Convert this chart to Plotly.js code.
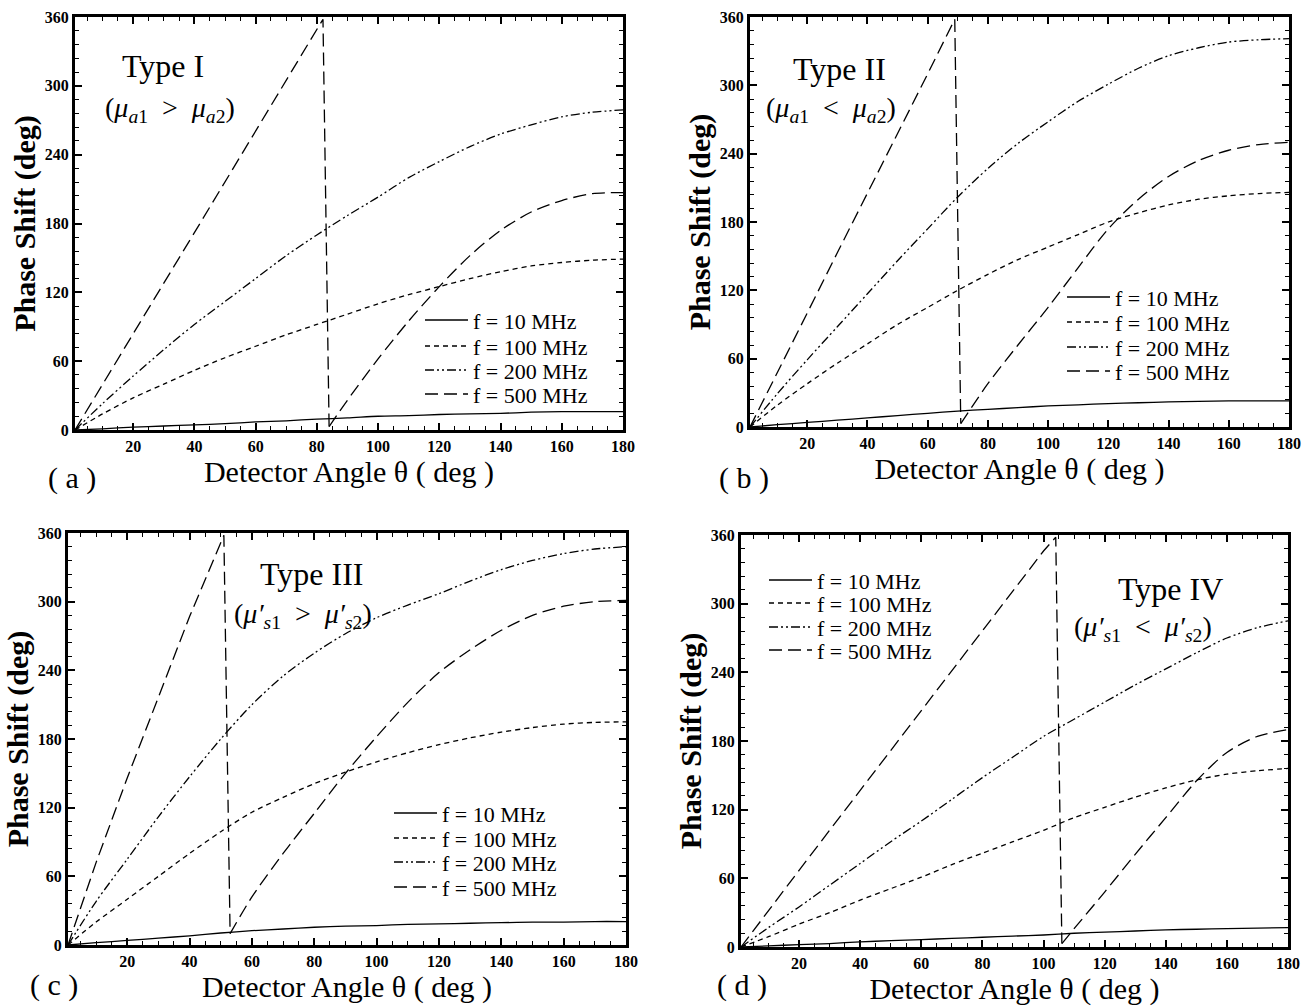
<!DOCTYPE html>
<html>
<head>
<meta charset="utf-8">
<script src="https://cdn.plot.ly/plotly-3.0.1.min.js"></script>
<style>
html,body{margin:0;padding:0;background:#fff;}
#chart{width:1304px;height:1006px;}
</style>
</head>
<body>
<div id="chart"></div>
<script>
// ---------- data ----------
const theta = [1,10,20,30,40,50,60,70,80,90,100,110,120,130,140,150,160,170,180];
const seriesNames = ['f = 10 MHz','f = 100 MHz','f = 200 MHz','f = 500 MHz'];
const xTickVals = [20,40,60,80,100,120,140,160,180];
const yTickVals = [0,60,120,180,240,300,360];

// (a) Type I
const a10  = [0,1,2.5,3.5,4.5,5.5,7,8,9.5,10.5,12,12.5,13.5,14,14.5,15.5,16,16,16];
const a100 = [0,14,28,40,52,63,73,83,92,101,110,118,125,132,138,143,146,148,149];
const a200 = [0,23,47,70,92,112,132,152,170,187,203,220,234,247,258,266,273,277,279];
const a500x = [1,10,20,30,40,50,60,70,82,84,90,100,110,120,130,140,150,160,170,180];
const a500  = [0,40,84,128,172,216,260,304,358,3,26,62,95,125,152,174,190,200,206,207];

// (b) Type II
const b10  = [0,2,4,6,8,10,12,14,15.5,17,18.5,19.5,20.5,21.3,22,22.5,23,23,23];
const b100 = [0,19,38,56,73,90,105,120,134,147,158,169,180,188,195,200,203,205,206];
const b200 = [0,29,59,88,117,146,174,202,227,249,268,286,301,315,326,333,338,340,341];
const b500x = [1,10,20,30,40,50,60,69,71,80,90,100,110,120,130,140,150,160,170,180];
const b500  = [0,47,100,153,205,258,310,358,3,38,72,105,140,174,200,220,234,243,248,250];

// (c) Type III
const c10  = [0,2,4,6,8,10.5,12.5,14,15.5,16.5,17,18,18.5,19,19.5,20,20,20.5,20.5];
const c100 = [0,20,40,60,80,99,116,129,141,151,160,168,175,181,186,190,193,194.5,195];
const c200 = [0,38,75,112,147,180,210,235,255,272,286,297,307,318,328,336,342,346,348];
const c500x = [1,10,20,30,40,51,53,60,70,80,90,100,110,120,130,140,150,160,170,180];
const c500  = [0,72,146,217,287,358,10,42,80,115,150,182,212,238,258,275,288,296,300,301];

// (d) Type IV
const d10  = [0,1,2,3,4.5,5.5,6.5,7.5,8.5,9.5,10.5,12,13,14,15,15.5,16,16.5,17];
const d100 = [0,9,20,30,41,51,61,72,82,92,102,113,122,131,139,146,151,154,156];
const d200 = [0,17,35,54,73,92,110,129,148,166,184,199,214,229,243,257,270,279,285];
const d500x = [1,10,20,30,40,50,60,70,80,90,100,104,106,110,120,130,140,150,160,170,180];
const d500  = [0,32,67,102,137,172,207,242,277,312,346,358,3,16,48,81,113,145,170,184,190];

// ---------- styling ----------
const W = 1304, H = 1006;
const SERIF = 'Liberation Serif, Times New Roman, serif';
const dashes = ['solid','5px,4px','9px,3px,2px,3px,2px,3px','13px,6px'];

function px2x(p){ return p / W; }
function px2y(p){ return 1 - p / H; }

// plot boxes in pixels [left, right, top, bottom]
const boxes = [
  [75, 623, 17, 430],
  [750, 1289, 17, 427],
  [68, 626, 533, 945],
  [741, 1288, 535, 947]
];
// legend rows: sample-left px and row-centre px for each series
const legendLeft = [420, 1062, 389, 764];
const legendRows = [
  [320, 346, 370, 394],
  [297, 322, 347, 371],
  [813, 838, 862, 887],
  [580, 603, 627, 650]
];

const panels = [
  {x:[theta,theta,theta,a500x], y:[a10,a100,a200,a500]},
  {x:[theta,theta,theta,b500x], y:[b10,b100,b200,b500]},
  {x:[theta,theta,theta,c500x], y:[c10,c100,c200,c500]},
  {x:[theta,theta,theta,d500x], y:[d10,d100,d200,d500]}
];

const LEG_FONT = 22;
const traces = [];
const legends = {};
panels.forEach((p, i) => {
  const xa = i === 0 ? 'x' : 'x' + (i + 1);
  const ya = i === 0 ? 'y' : 'y' + (i + 1);
  for (let s = 0; s < 4; s++) {
    const k = i * 4 + s + 1;
    const legId = k === 1 ? 'legend' : 'legend' + k;
    const itemH = LEG_FONT * 1.3 + 3;
    legends[legId] = {
      x: px2x(legendLeft[i]), y: px2y(legendRows[i][s] - 5 - itemH / 2),
      xanchor: 'left', yanchor: 'top', xref: 'paper', yref: 'paper',
      font: {family: SERIF, size: LEG_FONT, color: '#000'},
      bgcolor: 'rgba(0,0,0,0)', borderwidth: 0, itemwidth: 43
    };
    const base = {
      type: 'scatter', mode: 'lines', xaxis: xa, yaxis: ya, hoverinfo: 'skip',
      line: {color: '#000', width: 1.3, dash: dashes[s]}
    };
    const xs = p.x[s], ys = p.y[s];
    // find a phase wrap (sudden drop): rising part + drop drawn straight, the rest smooth
    let cut = -1;
    for (let j = 1; j < ys.length; j++) if (ys[j] < ys[j - 1] - 100) { cut = j; break; }
    if (cut < 0) {
      traces.push(Object.assign({}, base, {
        x: xs, y: ys, name: seriesNames[s], legend: legId,
        line: Object.assign({}, base.line, {shape: 'spline', smoothing: 0.8})
      }));
    } else {
      traces.push(Object.assign({}, base, {
        x: xs.slice(0, cut + 1), y: ys.slice(0, cut + 1), name: seriesNames[s], legend: legId,
        line: Object.assign({}, base.line, {shape: 'linear'})
      }));
      traces.push(Object.assign({}, base, {
        x: xs.slice(cut), y: ys.slice(cut), name: seriesNames[s], legend: legId, showlegend: false,
        line: Object.assign({}, base.line, {shape: 'spline', smoothing: 0.8})
      }));
    }
  }
});

const tickFont = {family: SERIF, size: 16, color: '#000', weight: 'bold'};
function xAxis(i) {
  const b = boxes[i];
  return {
    domain: [px2x(b[0]), px2x(b[1])],
    anchor: i === 0 ? 'y' : 'y' + (i + 1),
    range: [1, 180], tickmode: 'array', tickvals: xTickVals,
    ticks: 'inside', ticklen: 7, tickwidth: 1.5, tickcolor: '#000',
    minor: {ticks: 'inside', dtick: 5, tick0: 0, ticklen: 4, tickwidth: 1, tickcolor: '#000', showgrid: false},
    showline: true, linewidth: 3, linecolor: '#000', mirror: 'allticks',
    showgrid: false, zeroline: false, tickfont: tickFont,
    title: {text: 'Detector Angle θ ( deg )', font: {family: SERIF, size: 30, color: '#000'}, standoff: 5},
    fixedrange: true
  };
}
function yAxis(i) {
  const b = boxes[i];
  return {
    domain: [px2y(b[3]), px2y(b[2])],
    anchor: i === 0 ? 'x' : 'x' + (i + 1),
    range: [0, 360], tickmode: 'array', tickvals: yTickVals,
    ticks: 'inside', ticklen: 7, tickwidth: 1.5, tickcolor: '#000',
    minor: {ticks: 'inside', dtick: 12, tick0: 0, ticklen: 4, tickwidth: 1, tickcolor: '#000', showgrid: false},
    showline: true, linewidth: 3, linecolor: '#000', mirror: 'allticks',
    showgrid: false, zeroline: false, tickfont: tickFont,
    title: {text: 'Phase Shift (deg)', font: {family: SERIF, size: 30, color: '#000', weight: 'bold'}, standoff: 1},
    fixedrange: true
  };
}

const labelFont = {family: SERIF, size: 32, color: '#000'};
const formulaFont = {family: SERIF, size: 28, color: '#000'};
const panelFont = {family: SERIF, size: 30, color: '#000'};
function ann(text, xp, yp, font, yanchor) {
  return {text, x: px2x(xp), y: px2y(yp), xref: 'paper', yref: 'paper',
          xanchor: 'center', yanchor: yanchor || 'middle', showarrow: false, font};
}
const GT = '&nbsp;&nbsp;&gt;&nbsp;&nbsp;', LT = '&nbsp;&nbsp;&lt;&nbsp;&nbsp;';
const annotations = [
  ann('Type I', 163, 66, labelFont),
  ann('(<i>μ</i><sub><i>a</i>1</sub>' + GT + '<i>μ</i><sub><i>a</i>2</sub>)', 170, 109, formulaFont),
  ann('Type II', 840, 69, labelFont),
  ann('(<i>μ</i><sub><i>a</i>1</sub>' + LT + '<i>μ</i><sub><i>a</i>2</sub>)', 831, 109, formulaFont),
  ann('Type III', 311, 574, labelFont),
  ann('(<i>μ′</i><sub><i>s</i>1</sub>' + GT + '<i>μ′</i><sub><i>s</i>2</sub>)', 303, 615, formulaFont),
  ann('Type IV', 1170, 589, labelFont),
  ann('(<i>μ′</i><sub><i>s</i>1</sub>' + LT + '<i>μ′</i><sub><i>s</i>2</sub>)', 1143, 628, formulaFont),
  ann('( a )', 72, 478, panelFont),
  ann('( b )', 744, 478, panelFont),
  ann('( c )', 54, 1004, panelFont, 'bottom'),
  ann('( d )', 742, 1004, panelFont, 'bottom')
];

const layout = {
  width: W, height: H,
  margin: {l: 0, r: 0, t: 0, b: 0},
  paper_bgcolor: '#fff', plot_bgcolor: '#fff',
  showlegend: true,
  font: {family: SERIF, color: '#000'},
  annotations: annotations
};
for (let i = 0; i < 4; i++) {
  layout[i === 0 ? 'xaxis' : 'xaxis' + (i + 1)] = xAxis(i);
  layout[i === 0 ? 'yaxis' : 'yaxis' + (i + 1)] = yAxis(i);
}
Object.assign(layout, legends);

Plotly.newPlot('chart', traces, layout, {displayModeBar: false, responsive: false});
</script>
</body>
</html>
